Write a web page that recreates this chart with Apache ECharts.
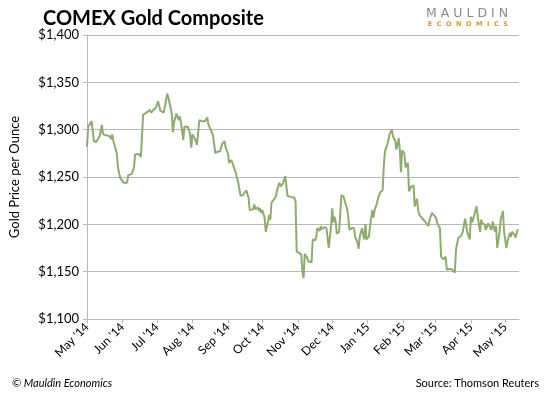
<!DOCTYPE html>
<html>
<head>
<meta charset="utf-8">
<script src="https://cdn.jsdelivr.net/npm/echarts@6/dist/echarts.min.js"></script>
<style>
  html, body { margin: 0; padding: 0; background: #fff; }
  #chart { width: 550px; height: 396px; }
</style>
</head>
<body>
<div id="chart"></div>
<script>
var title = "COMEX Gold Composite"
var yAxisName = "Gold Price per Ounce"
var monthNames = ["Jan", "Feb", "Mar", "Apr", "May", "Jun", "Jul", "Aug", "Sep", "Oct", "Nov", "Dec"]
var yTicks = [1100, 1150, 1200, 1250, 1300, 1350, 1400]
var xRange = ["2014-05-01", "2015-05-13"]

var dates = [
  "2014-05-01", "2014-05-02", "2014-05-05", "2014-05-06", "2014-05-07", "2014-05-09", "2014-05-12", "2014-05-14",
  "2014-05-15", "2014-05-16", "2014-05-21", "2014-05-22", "2014-05-23", "2014-05-24", "2014-05-27", "2014-05-28",
  "2014-05-30", "2014-06-02", "2014-06-05", "2014-06-06", "2014-06-09", "2014-06-11", "2014-06-12", "2014-06-16",
  "2014-06-17", "2014-06-19", "2014-06-22", "2014-06-23", "2014-06-25", "2014-06-26", "2014-06-28", "2014-06-30",
  "2014-07-02", "2014-07-04", "2014-07-07", "2014-07-08", "2014-07-10", "2014-07-11", "2014-07-14", "2014-07-15",
  "2014-07-16", "2014-07-18", "2014-07-20", "2014-07-21", "2014-07-22", "2014-07-24", "2014-07-25", "2014-07-28",
  "2014-07-30", "2014-07-31", "2014-08-01", "2014-08-03", "2014-08-05", "2014-08-07", "2014-08-09", "2014-08-12",
  "2014-08-14", "2014-08-15", "2014-08-17", "2014-08-19", "2014-08-21", "2014-08-23", "2014-08-25", "2014-08-27",
  "2014-08-29", "2014-08-30", "2014-09-01", "2014-09-02", "2014-09-04", "2014-09-05", "2014-09-06", "2014-09-08",
  "2014-09-10", "2014-09-12", "2014-09-14", "2014-09-15", "2014-09-17", "2014-09-19", "2014-09-20", "2014-09-23",
  "2014-09-24", "2014-09-25", "2014-09-27", "2014-09-28", "2014-09-29", "2014-09-30", "2014-10-01", "2014-10-03",
  "2014-10-04", "2014-10-06", "2014-10-07", "2014-10-08", "2014-10-09", "2014-10-11", "2014-10-13", "2014-10-14",
  "2014-10-16", "2014-10-17", "2014-10-19", "2014-10-20", "2014-10-21", "2014-10-23", "2014-10-24", "2014-10-26",
  "2014-10-29", "2014-10-30", "2014-10-31", "2014-11-02", "2014-11-03", "2014-11-04", "2014-11-05", "2014-11-06",
  "2014-11-07", "2014-11-09", "2014-11-10", "2014-11-11", "2014-11-13", "2014-11-14", "2014-11-16", "2014-11-17",
  "2014-11-18", "2014-11-20", "2014-11-21", "2014-11-22", "2014-11-24", "2014-11-26", "2014-11-27", "2014-11-28",
  "2014-11-30", "2014-12-01", "2014-12-02", "2014-12-03", "2014-12-04", "2014-12-05", "2014-12-07", "2014-12-08",
  "2014-12-09", "2014-12-11", "2014-12-12", "2014-12-14", "2014-12-15", "2014-12-16", "2014-12-18", "2014-12-20",
  "2014-12-21", "2014-12-23", "2014-12-24", "2014-12-25", "2014-12-27", "2014-12-28", "2014-12-29", "2014-12-30",
  "2014-12-31", "2015-01-02", "2015-01-03", "2015-01-05", "2015-01-06", "2015-01-07", "2015-01-09", "2015-01-10",
  "2015-01-12", "2015-01-14", "2015-01-15", "2015-01-16", "2015-01-18", "2015-01-19", "2015-01-20", "2015-01-22",
  "2015-01-23", "2015-01-25", "2015-01-26", "2015-01-28", "2015-01-29", "2015-01-30", "2015-01-31", "2015-02-01",
  "2015-02-02", "2015-02-03", "2015-02-05", "2015-02-06", "2015-02-08", "2015-02-10", "2015-02-11", "2015-02-13",
  "2015-02-14", "2015-02-15", "2015-02-17", "2015-02-18", "2015-02-20", "2015-02-21", "2015-02-23", "2015-02-24",
  "2015-02-26", "2015-02-27", "2015-03-01", "2015-03-02", "2015-03-03", "2015-03-05", "2015-03-06", "2015-03-08",
  "2015-03-10", "2015-03-11", "2015-03-14", "2015-03-15", "2015-03-16", "2015-03-18", "2015-03-19", "2015-03-21",
  "2015-03-23", "2015-03-25", "2015-03-26", "2015-03-27", "2015-03-28", "2015-03-29", "2015-03-31", "2015-04-01",
  "2015-04-02", "2015-04-04", "2015-04-06", "2015-04-07", "2015-04-09", "2015-04-10", "2015-04-11", "2015-04-13",
  "2015-04-14", "2015-04-16", "2015-04-17", "2015-04-19", "2015-04-20", "2015-04-22", "2015-04-23", "2015-04-24",
  "2015-04-26", "2015-04-27", "2015-04-29", "2015-04-30", "2015-05-02", "2015-05-03", "2015-05-05", "2015-05-06",
  "2015-05-07", "2015-05-09", "2015-05-10", "2015-05-12"
]

var prices = [
  1282, 1303, 1309, 1310, 1288, 1287, 1293, 1305,
  1295, 1293, 1293, 1290, 1295, 1288, 1275, 1260,
  1249, 1244, 1244, 1252, 1253, 1260, 1274, 1274,
  1271, 1316, 1318, 1319, 1321, 1318, 1321, 1323,
  1330, 1320, 1318, 1317, 1338, 1334, 1317, 1297,
  1308, 1317, 1310, 1314, 1308, 1289, 1303, 1303,
  1295, 1281, 1295, 1291, 1284, 1310, 1309, 1309,
  1313, 1305, 1300, 1294, 1275, 1277, 1277, 1285,
  1288, 1281, 1275, 1265, 1268, 1266, 1261, 1254,
  1244, 1230, 1231, 1232, 1236, 1228, 1215, 1216,
  1221, 1216, 1218, 1214, 1217, 1212, 1215, 1207,
  1192, 1203, 1210, 1205, 1223, 1226, 1230, 1237,
  1244, 1240, 1243, 1245, 1251, 1230, 1230, 1229,
  1228, 1224, 1171, 1170, 1169, 1168, 1150, 1143,
  1169, 1165, 1161, 1163, 1160, 1184, 1183, 1186,
  1196, 1193, 1198, 1195, 1197, 1196, 1196, 1175,
  1198, 1217, 1202, 1208, 1203, 1190, 1192, 1194,
  1231, 1229, 1224, 1217, 1207, 1194, 1196, 1196,
  1187, 1181, 1174, 1187, 1196, 1189, 1184, 1200,
  1184, 1187, 1198, 1215, 1207, 1215, 1222, 1228,
  1234, 1236, 1261, 1277, 1284, 1289, 1295, 1300,
  1293, 1288, 1279, 1291, 1279, 1255, 1278, 1277,
  1275, 1260, 1265, 1235, 1240, 1241, 1219, 1227,
  1215, 1210, 1207, 1205, 1203, 1201, 1198, 1205,
  1212, 1211, 1208, 1205, 1200, 1196, 1166, 1163,
  1166, 1152, 1153, 1154, 1152, 1149, 1173, 1186,
  1187, 1192, 1200, 1206, 1198, 1191, 1184, 1208,
  1202, 1210, 1219, 1208, 1192, 1205, 1201, 1200,
  1194, 1201, 1203, 1194, 1203, 1192, 1198, 1175,
  1192, 1205, 1214, 1192, 1175, 1182, 1191, 1187,
  1192, 1189, 1186, 1195
]

var font = "Lato, 'Open Sans', sans-serif"
var gridColor = "#b8b8b8"

var seriesData = dates.map(function (d, i) { return [d, prices[i]] })

var chart = echarts.init(document.getElementById("chart"), null, { renderer: "canvas" })

var option = {
  backgroundColor: "#fff",
  animation: false,
  textStyle: { fontFamily: font },
  title: {
    text: title,
    left: 38,
    top: 4,
    textStyle: { fontFamily: font, fontSize: 20, fontWeight: "bold", color: "#000" }
  },
  graphic: [
    {
      type: "text", right: 42, top: 7,
      style: { text: "M A U L D I N", fontFamily: "'DejaVu Sans', sans-serif", fontSize: 12.5, fill: "#8a8a8a" }
    },
    {
      type: "text", right: 42, top: 21,
      style: { text: "E  C  O  N  O  M  I  C  S", fontFamily: "'DejaVu Sans', sans-serif", fontSize: 6.5, fontWeight: "bold", fill: "#c9a227" }
    },
    {
      type: "text", left: 12, top: 378,
      style: { text: "© Mauldin Economics", fontFamily: font, fontSize: 11, fontStyle: "italic", fill: "#000" }
    },
    {
      type: "text", right: 11, top: 378,
      style: { text: "Source: Thomson Reuters", fontFamily: font, fontSize: 11, fill: "#000" }
    }
  ],
  grid: { left: 85, right: 31, top: 35, bottom: 77 },
  xAxis: {
    type: "time",
    min: xRange[0],
    max: xRange[1],
    splitNumber: 12,
    minInterval: 28 * 86400000,
    axisLine: { lineStyle: { color: gridColor, width: 1 } },
    axisTick: { show: true, length: 4, lineStyle: { color: gridColor } },
    splitLine: { show: false },
    axisLabel: {
      rotate: 45,
      margin: 6,
      fontFamily: font,
      fontSize: 12,
      color: "#000",
      formatter: function (val) {
        var d = new Date(val)
        return monthNames[d.getMonth()] + " '" + String(d.getFullYear()).slice(2)
      }
    }
  },
  yAxis: {
    type: "value",
    min: yTicks[0],
    max: yTicks[yTicks.length - 1],
    interval: 50,
    name: yAxisName,
    nameLocation: "middle",
    nameGap: 66,
    nameTextStyle: { fontFamily: font, fontSize: 13, color: "#000" },
    axisLine: { show: true, lineStyle: { color: gridColor, width: 1 } },
    axisTick: { show: true, length: 4, lineStyle: { color: gridColor } },
    splitLine: { show: true, lineStyle: { color: gridColor, width: 1 } },
    axisLabel: {
      margin: 8,
      fontFamily: font,
      fontSize: 13,
      color: "#000",
      formatter: function (val) { return "$" + val.toLocaleString("en-US") }
    }
  },
  series: [{
    type: "line",
    data: seriesData,
    showSymbol: false,
    symbol: "none",
    lineStyle: { color: "#8fab6e", width: 2 },
    itemStyle: { color: "#8fab6e" }
  }]
}

chart.setOption(option)
</script>
</body>
</html>
